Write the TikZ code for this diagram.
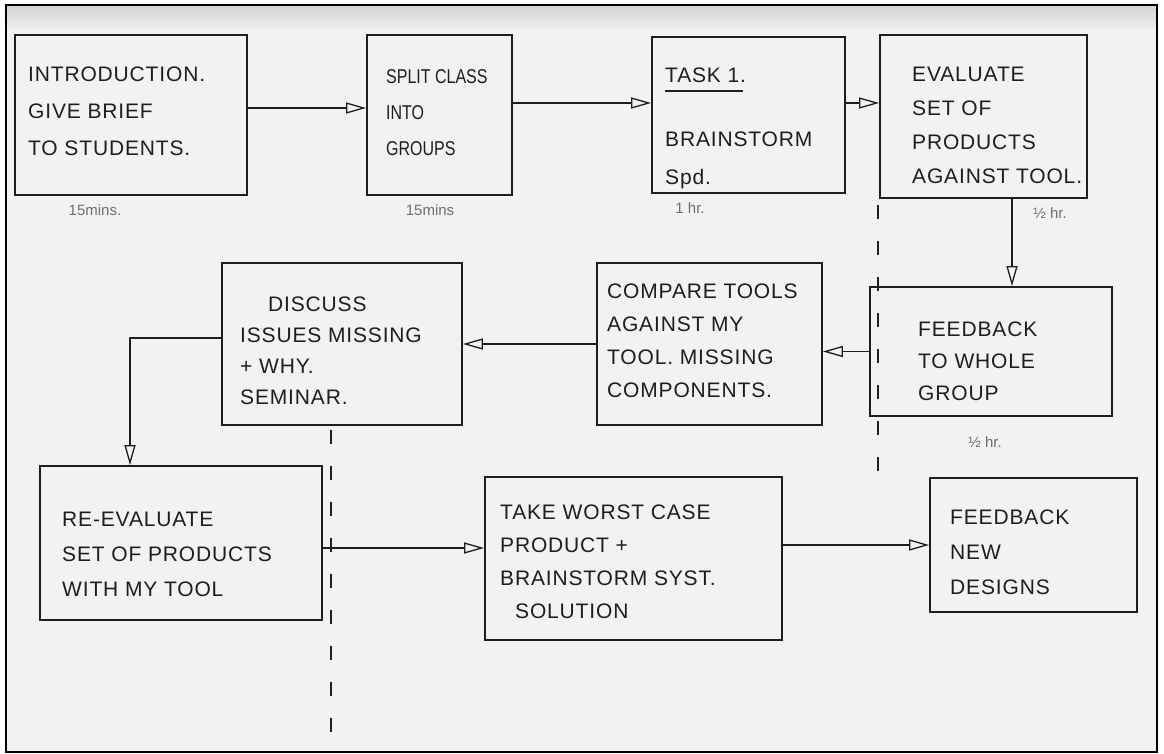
\documentclass[tikz,border=0pt]{standalone}
\usepackage{fontspec}
\setmainfont{Liberation Sans}
\newfontfamily\handfont[LetterSpace=4]{Liberation Sans}
\newfontfamily\narrowhand[FakeStretch=0.8]{Liberation Sans}
\usetikzlibrary{arrows.meta,fit}
\definecolor{ink}{HTML}{1E1E1E}
\definecolor{paper}{HTML}{F2F2F2}
\definecolor{band}{HTML}{D4D4D4}
\definecolor{pencil}{HTML}{6E6E6E}
\begin{document}
\begin{tikzpicture}[x=1pt,y=-1pt,
  stepbox/.style={draw=ink, line width=1.7pt, inner sep=0pt},
  txt/.style={anchor=north west, inner sep=0pt, align=left, text=ink,
    font=\handfont\fontsize{21}{#1}\selectfont},
  txt/.default=35,
  timing/.style={text=pencil, inner sep=0pt, font=\fontsize{15}{17}\selectfont},
  flow/.style={draw=ink, line width=1.3pt,
    -{Triangle[open,length=20pt,width=11pt,line width=1.3pt]}},
  divider/.style={draw=ink, line width=1.6pt, dash pattern=on 14pt off 22pt}]
\useasboundingbox (0,0) rectangle (1164,754);

% paper and frame
\fill[white] (0,0) rectangle (1164,754);
\fill[paper] (6,5) rectangle (1157,752);
\shade[top color=band, bottom color=paper] (6,5) rectangle (1157,32);
\draw[black, line width=2pt] (6,5) rectangle (1157,752);

% boxes
\node[stepbox, fit={(15,35) (247,195)}] (intro) {};
\node[stepbox, fit={(367,35) (512,195)}] (split) {};
\node[stepbox, fit={(652,37) (845,193)}] (task) {};
\node[stepbox, fit={(880,35) (1087,198)}] (evaluate) {};
\node[stepbox, fit={(870,287) (1112,416)}] (feedback) {};
\node[stepbox, fit={(597,263) (822,425)}] (compare) {};
\node[stepbox, fit={(222,263) (462,425)}] (discuss) {};
\node[stepbox, fit={(40,466) (322,620)}] (reeval) {};
\node[stepbox, fit={(485,477) (782,640)}] (worst) {};
\node[stepbox, fit={(930,478) (1137,612)}] (newdes) {};

% box texts
\node[txt=37] (introT) at (28,67) {INTRODUCTION.\\GIVE BRIEF\\TO STUDENTS.};
\node[anchor=north west, inner sep=0pt, align=left, text=ink,
  font=\narrowhand\fontsize{20}{36}\selectfont] (splitT) at (386,69) {SPLIT CLASS\\INTO\\GROUPS};
\node[txt] (taskT) at (665,68) {TASK 1.};
\draw[ink, line width=1.6pt] (665,91) -- (743,91);
\node[txt=38] (taskT2) at (665,132) {BRAINSTORM\\Spd.};
\node[txt=34] (evalT) at (912,67) {EVALUATE\\SET OF\\PRODUCTS\\AGAINST TOOL.};
\node[txt=32] (feedT) at (918,322) {FEEDBACK\\TO WHOLE\\GROUP};
\node[txt=33] (compT) at (607,284) {COMPARE TOOLS\\AGAINST MY\\TOOL. MISSING\\COMPONENTS.};
\node[txt=31] (discT) at (240,297) {\hspace*{28pt}DISCUSS\\ISSUES MISSING\\+ WHY.\\SEMINAR.};
\node[txt=35] (reevT) at (62,512) {RE-EVALUATE\\SET OF PRODUCTS\\WITH MY TOOL};
\node[txt=33] (worstT) at (500,505) {TAKE WORST CASE\\PRODUCT +\\BRAINSTORM SYST.\\\hspace*{15pt}SOLUTION};
\node[txt=35] (newT) at (950,510) {FEEDBACK\\NEW\\DESIGNS};

% timings
\node[timing] (t1) at (95,210) {15mins.};
\node[timing] (t2) at (430,210) {15mins};
\node[timing] (t3) at (690,208) {1 hr.};
\node[timing] (t4) at (1050,213) {½ hr.};
\node[timing] (t5) at (985,442) {½ hr.};

% separators
\coordinate (s1a) at (878,205);
\coordinate (s1b) at (878,492);
\coordinate (s2a) at (331,430);
\coordinate (s2b) at (331,748);
\draw[divider] (s1a) -- (s1b);
\draw[divider] (s2a) -- (s2b);

% connectors
\coordinate (ax) at (1012,0);
\coordinate (bx) at (130,0);
\draw[flow] ([yshift=7pt]intro.east) -- ([yshift=7pt]intro.east -| split.west);
\draw[flow] ([yshift=12pt]split.east) -- ([yshift=12pt]split.east -| task.west);
\draw[flow] ([yshift=12pt]task.east) -- ([yshift=12pt]task.east -| evaluate.west);
\draw[flow] (evaluate.south -| ax) -- (feedback.north -| ax);
\draw[flow] (feedback.west) -- (feedback.west -| compare.east);
\draw[flow] (compare.west) -- (compare.west -| discuss.east);
\draw[flow] ([yshift=6pt]discuss.west) -- ([yshift=6pt]discuss.west -| bx) -- (reeval.north -| bx);
\draw[flow] ([yshift=-5pt]reeval.east) -- ([yshift=-5pt]reeval.east -| worst.west);
\draw[flow] (newdes.west -| worst.east) -- (newdes.west);
\end{tikzpicture}
\end{document}
